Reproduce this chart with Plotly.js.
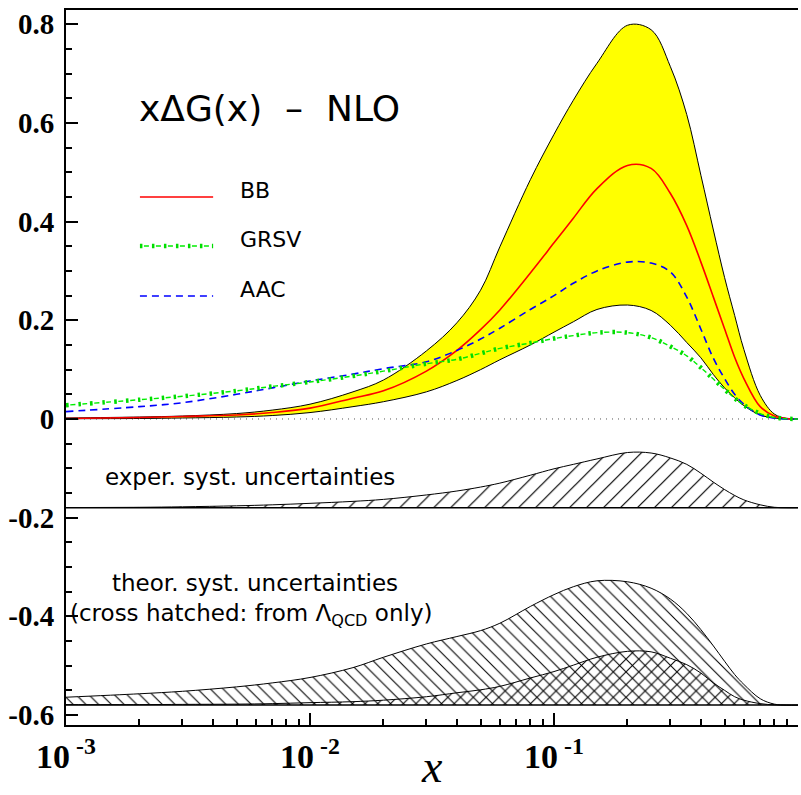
<!DOCTYPE html>
<html>
<head>
<meta charset="utf-8">
<script src="https://cdn.plot.ly/plotly-3.0.1.min.js"></script>
<style>html,body{margin:0;padding:0;background:#fff;}</style>
</head>
<body>
<div id="chart" style="width:801px;height:795px;"></div>
<script>
// ---- data ----
const X = [0.001,0.002,0.003,0.005,0.007,0.01,0.015,0.02,0.03,0.04,0.05,0.06,0.08,0.1,0.12,0.15,0.2,0.25,0.3,0.35,0.4,0.45,0.5,0.55,0.6,0.7,0.8,0.9,1.0];

// BB band (yellow) lower / upper edge
const BB_LOW  = [0.0005,0.001,0.002,0.004,0.007,0.013,0.025,0.035,0.055,0.078,0.100,0.120,0.150,0.176,0.197,0.222,0.231,0.220,0.190,0.155,0.124,0.090,0.063,0.043,0.027,0.008,0.002,0.0,0.0];
const BB_HIGH = [0.002,0.004,0.006,0.011,0.018,0.030,0.055,0.079,0.138,0.195,0.261,0.349,0.485,0.577,0.646,0.721,0.798,0.789,0.714,0.617,0.494,0.383,0.287,0.210,0.141,0.048,0.010,0.001,0.0];

// central curves
const BB   = [0.001,0.003,0.005,0.008,0.013,0.022,0.042,0.057,0.097,0.139,0.181,0.221,0.296,0.357,0.407,0.467,0.514,0.508,0.457,0.392,0.318,0.247,0.183,0.125,0.082,0.025,0.006,0.001,0.0];
const GRSV = [0.028,0.039,0.046,0.057,0.066,0.075,0.087,0.097,0.112,0.121,0.133,0.143,0.154,0.163,0.169,0.175,0.175,0.165,0.147,0.128,0.104,0.081,0.060,0.042,0.028,0.011,0.003,0.0005,0.0];
const AAC  = [0.015,0.025,0.033,0.050,0.063,0.077,0.091,0.102,0.116,0.139,0.162,0.184,0.222,0.250,0.275,0.300,0.318,0.316,0.298,0.247,0.182,0.123,0.082,0.050,0.030,0.008,0.002,0.0,0.0];

// systematic uncertainties (drawn shifted down by an offset)
const EXP_OFFSET = -0.18;
const EXP_SYST = [0.0005,0.001,0.002,0.004,0.006,0.009,0.013,0.017,0.026,0.034,0.042,0.050,0.066,0.079,0.088,0.099,0.112,0.111,0.101,0.088,0.070,0.052,0.037,0.025,0.016,0.006,0.001,0.0,0.0];
const THEO_OFFSET = -0.58;
const THEO_SYST = [0.016,0.023,0.028,0.037,0.045,0.056,0.076,0.097,0.124,0.139,0.151,0.166,0.200,0.224,0.240,0.252,0.250,0.237,0.215,0.186,0.153,0.120,0.089,0.062,0.042,0.013,0.002,0.0,0.0];
const LQCD_SYST = [0.001,0.001,0.0015,0.002,0.003,0.005,0.007,0.010,0.017,0.025,0.031,0.038,0.055,0.068,0.081,0.097,0.109,0.108,0.095,0.082,0.065,0.045,0.030,0.017,0.010,0.003,0.0005,0.0,0.0];

// axes ticks
const X_TICKS = [0.001, 0.01, 0.1, 1];
const X_TICKTEXT = ['10<sup> -3</sup>', '10<sup> -2</sup>', '10<sup> -1</sup>', '1'];
const X_MINOR = [0.002,0.003,0.004,0.005,0.006,0.007,0.008,0.009,0.02,0.03,0.04,0.05,0.06,0.07,0.08,0.09,0.2,0.3,0.4,0.5,0.6,0.7,0.8,0.9];
const Y_TICKS = [0.8, 0.6, 0.4, 0.2, 0, -0.2, -0.4, -0.6];
const Y_TICKTEXT = ['0.8', '0.6', '0.4', '0.2', '0', '-0.2', '-0.4', '-0.6'];

const LEGEND_NAMES = ['BB', 'GRSV', 'AAC'];

// ---- build ----
const shift = (arr, off) => arr.map(v => v + off);
const flat = (off) => X.map(() => off);
const SM = 1.0;
const GREEN_LINE_DASH = '0px,4px,5px,3px';
const GREEN_DOT_DASH = '2.5px,9.5px';

const traces = [
  // yellow BB uncertainty band
  {x: X, y: BB_LOW, mode: 'lines', line: {color: '#000', width: 1, shape: 'spline', smoothing: SM}, hoverinfo: 'skip'},
  {x: X, y: BB_HIGH, mode: 'lines', fill: 'tonexty', fillcolor: '#ffff00', line: {color: '#000', width: 1, shape: 'spline', smoothing: SM}, hoverinfo: 'skip'},
  // central curves
  {x: X, y: BB, name: 'BB', mode: 'lines', line: {color: '#ff0000', width: 1.6, shape: 'spline', smoothing: SM}},
  {x: X, y: AAC, name: 'AAC', mode: 'lines', line: {color: '#0000ff', width: 1.6, dash: '7px,5px', shape: 'spline', smoothing: SM}},
  {x: X, y: GRSV, name: 'GRSV', mode: 'lines', line: {color: '#00ee00', width: 1.4, dash: GREEN_LINE_DASH, shape: 'spline', smoothing: SM}},
  {x: X, y: GRSV, name: 'GRSV dots', mode: 'lines', line: {color: '#00dd00', width: 4.5, dash: GREEN_DOT_DASH, shape: 'spline', smoothing: SM}, hoverinfo: 'skip'},
  // experimental systematic uncertainties
  {x: X, y: flat(EXP_OFFSET), mode: 'lines', line: {color: '#000', width: 1.5}, hoverinfo: 'skip'},
  {x: X, y: shift(EXP_SYST, EXP_OFFSET), mode: 'lines', fill: 'tonexty', fillcolor: 'rgba(0,0,0,0)',
   fillpattern: {shape: '/', size: 12, solidity: 0.1, fgcolor: '#000', bgcolor: 'rgba(0,0,0,0)'},
   line: {color: '#000', width: 1, shape: 'spline', smoothing: SM}, hoverinfo: 'skip'},
  // theoretical systematic uncertainties
  {x: X, y: flat(THEO_OFFSET), mode: 'lines', line: {color: '#000', width: 1.5}, hoverinfo: 'skip'},
  {x: X, y: shift(THEO_SYST, THEO_OFFSET), mode: 'lines', fill: 'tonexty', fillcolor: 'rgba(0,0,0,0)',
   fillpattern: {shape: '\\', size: 9, solidity: 0.12, fgcolor: '#000', bgcolor: 'rgba(0,0,0,0)'},
   line: {color: '#000', width: 1, shape: 'spline', smoothing: SM}, hoverinfo: 'skip'},
  {x: X, y: flat(THEO_OFFSET), mode: 'lines', line: {color: 'rgba(0,0,0,0)', width: 0}, hoverinfo: 'skip'},
  {x: X, y: shift(LQCD_SYST, THEO_OFFSET), mode: 'lines', fill: 'tonexty', fillcolor: 'rgba(0,0,0,0)',
   fillpattern: {shape: '/', size: 9, solidity: 0.12, fgcolor: '#000', bgcolor: 'rgba(0,0,0,0)'},
   line: {color: '#000', width: 1, shape: 'spline', smoothing: SM}, hoverinfo: 'skip'}
];

// legend placement (paper coords)
const legendX0 = 0.101, legendX1 = 0.201, legendTextX = 0.235;
const legendRows = [0.7385, 0.670, 0.600];

const shapes = [
  {type: 'line', xref: 'paper', x0: 0, x1: 1, yref: 'y', y0: 0, y1: 0, layer: 'below',
   line: {color: '#555', width: 1, dash: '1px,5px'}},
  {type: 'line', xref: 'paper', yref: 'paper', x0: legendX0, x1: legendX1, y0: legendRows[0], y1: legendRows[0], line: {color: '#ff0000', width: 1.6}},
  {type: 'line', xref: 'paper', yref: 'paper', x0: legendX0, x1: legendX1, y0: legendRows[1], y1: legendRows[1], line: {color: '#00ee00', width: 1.4, dash: GREEN_LINE_DASH}},
  {type: 'line', xref: 'paper', yref: 'paper', x0: legendX0, x1: legendX1, y0: legendRows[1], y1: legendRows[1], line: {color: '#00dd00', width: 4.5, dash: GREEN_DOT_DASH}},
  {type: 'line', xref: 'paper', yref: 'paper', x0: legendX0, x1: legendX1, y0: legendRows[2], y1: legendRows[2], line: {color: '#0000ff', width: 1.6, dash: '7px,5px'}}
];

const txtFont = {family: 'DejaVu Sans', size: 23, color: '#000'};
const legFont = {family: 'DejaVu Sans', size: 22, color: '#000'};
const annotations = [
  {xref: 'paper', yref: 'paper', x: legendTextX, y: legendRows[0] + 0.009, xanchor: 'left', yanchor: 'middle', showarrow: false, text: LEGEND_NAMES[0], font: legFont},
  {xref: 'paper', yref: 'paper', x: legendTextX, y: legendRows[1] + 0.009, xanchor: 'left', yanchor: 'middle', showarrow: false, text: LEGEND_NAMES[1], font: legFont},
  {xref: 'paper', yref: 'paper', x: legendTextX, y: legendRows[2] + 0.009, xanchor: 'left', yanchor: 'middle', showarrow: false, text: LEGEND_NAMES[2], font: legFont},
  {xref: 'paper', yref: 'paper', x: 0.0505, y: 0.3469, xanchor: 'left', yanchor: 'middle', showarrow: false, text: 'exper. syst. uncertainties', font: txtFont},
  {xref: 'paper', yref: 'paper', x: 0.0601, y: 0.1986, xanchor: 'left', yanchor: 'middle', showarrow: false, text: 'theor. syst. uncertainties', font: txtFont},
  {xref: 'paper', yref: 'paper', x: 0.0027, y: 0.1538, xanchor: 'left', yanchor: 'middle', showarrow: false, text: '(cross hatched: from Λ<sub>QCD</sub> only)', font: txtFont},
  // x-axis title
  {xref: 'paper', yref: 'paper', x: 0.5, y: -0.0587, xanchor: 'center', yanchor: 'middle', showarrow: false, text: '<i>x</i>', font: {family: 'Liberation Serif', size: 46, color: '#000'}}
];

const layout = {
  width: 801, height: 795,
  margin: {l: 66, r: 3, t: 10, b: 70},
  paper_bgcolor: '#fff', plot_bgcolor: '#fff',
  showlegend: false,
  hovermode: false,
  title: {text: 'xΔG(x)  –  NLO', x: 0.1735, xanchor: 'left', xref: 'container', y: 0.864, yanchor: 'middle', yref: 'container',
          font: {family: 'DejaVu Sans', size: 36, color: '#000'}},
  xaxis: {
    type: 'log', range: [-3, 0],
    showline: true, linecolor: '#000', linewidth: 2, mirror: true,
    ticks: 'inside', ticklen: 12, tickwidth: 2, tickcolor: '#000',
    tickmode: 'array', tickvals: X_TICKS, ticktext: X_TICKTEXT,
    tickfont: {family: 'Liberation Serif', size: 34, color: '#000', weight: 'bold'},
    minor: {tickmode: 'array', tickvals: X_MINOR, ticks: 'inside', ticklen: 6, tickwidth: 2, tickcolor: '#000', showgrid: false},
    showgrid: false, zeroline: false
  },
  yaxis: {
    range: [-0.6203, 0.829],
    showline: true, linecolor: '#000', linewidth: 2,
    ticks: 'inside', ticklen: 12, tickwidth: 2, tickcolor: '#000',
    tickmode: 'array', tickvals: Y_TICKS, ticktext: Y_TICKTEXT,
    tickfont: {family: 'Liberation Serif', size: 29, color: '#000', weight: 'bold'},
    ticklabelstandoff: 4,
    minor: {dtick: 0.05, tick0: 0, ticks: 'inside', ticklen: 6, tickwidth: 2, tickcolor: '#000', showgrid: false},
    showgrid: false, zeroline: false
  },
  shapes: shapes,
  annotations: annotations
};

Plotly.newPlot('chart', traces, layout, {staticPlot: true, displayModeBar: false});
</script>
</body>
</html>
